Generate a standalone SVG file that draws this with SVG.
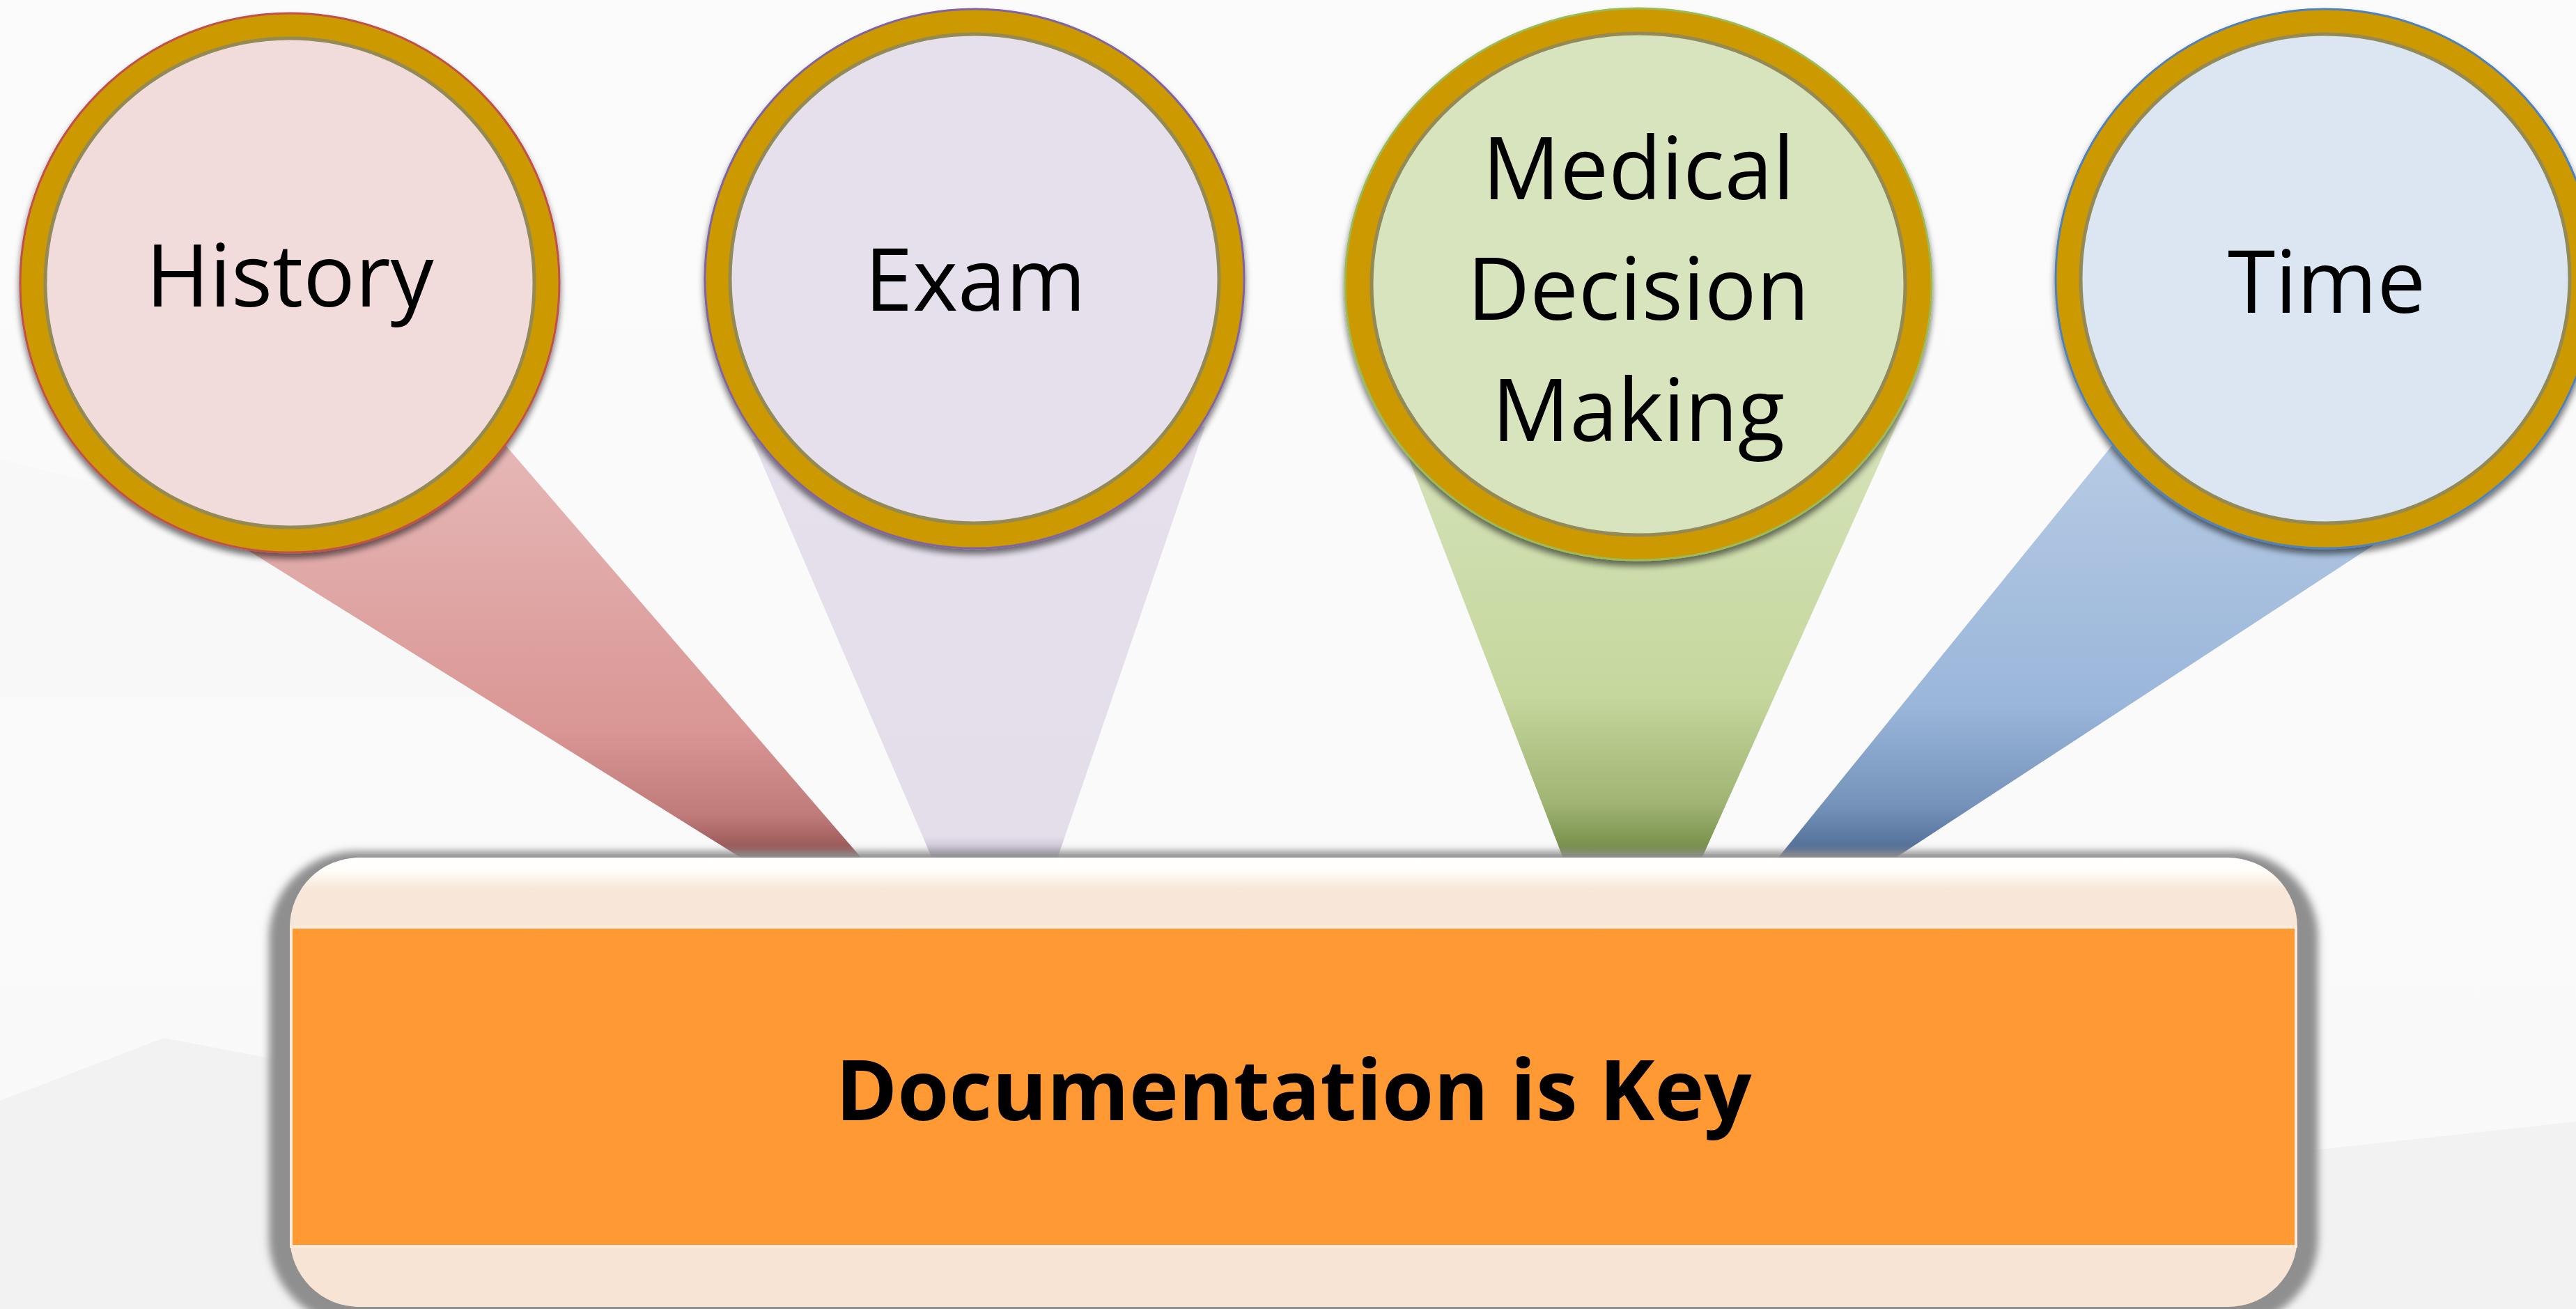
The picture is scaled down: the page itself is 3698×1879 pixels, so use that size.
<svg xmlns="http://www.w3.org/2000/svg" width="3698" height="1879" viewBox="0 0 3698 1879">
<style>
.lbl{font-family:"Open Sans","Noto Sans","Liberation Sans",sans-serif;font-size:124px;fill:#000;text-anchor:middle}
.key{font-family:"Open Sans","Noto Sans","Liberation Sans",sans-serif;font-size:120px;font-weight:bold;fill:#000;text-anchor:middle}
.ring{fill:#CC9900;stroke-width:3}
.face{stroke:#948A54;stroke-width:5}
</style>
<defs>
<filter id="csh" x="-10%" y="-10%" width="120%" height="125%">
<feGaussianBlur in="SourceAlpha" stdDeviation="5"/>
<feOffset dy="7" result="b"/>
<feComponentTransfer><feFuncA type="linear" slope="0.55"/></feComponentTransfer>
<feMerge><feMergeNode/><feMergeNode in="SourceGraphic"/></feMerge>
</filter>
<filter id="bsh" x="-5%" y="-10%" width="110%" height="120%">
<feGaussianBlur stdDeviation="6"/>
</filter>
<linearGradient id="gRed" gradientUnits="userSpaceOnUse" x1="0" y1="620" x2="0" y2="1232">
<stop offset="0" stop-color="#E6B9B8"/><stop offset="0.7" stop-color="#D99694"/><stop offset="0.9" stop-color="#BF7B79"/><stop offset="1" stop-color="#8E4E4E"/>
</linearGradient>
<linearGradient id="gPur" gradientUnits="userSpaceOnUse" x1="0" y1="600" x2="0" y2="1232">
<stop offset="0" stop-color="#E5E0EC"/><stop offset="0.95" stop-color="#E3DEEA"/><stop offset="1" stop-color="#B9B0C6"/>
</linearGradient>
<linearGradient id="gGrn" gradientUnits="userSpaceOnUse" x1="0" y1="570" x2="0" y2="1232">
<stop offset="0" stop-color="#D7E4BD"/><stop offset="0.65" stop-color="#C5D79D"/><stop offset="0.88" stop-color="#A0B473"/><stop offset="1" stop-color="#6F8742"/>
</linearGradient>
<linearGradient id="gBlu" gradientUnits="userSpaceOnUse" x1="0" y1="600" x2="0" y2="1232">
<stop offset="0" stop-color="#B9CDE5"/><stop offset="0.65" stop-color="#9AB6DA"/><stop offset="0.88" stop-color="#7592BA"/><stop offset="1" stop-color="#4B6890"/>
</linearGradient>
<linearGradient id="gBox" gradientUnits="userSpaceOnUse" x1="0" y1="1231" x2="0" y2="1876">
<stop offset="0" stop-color="#FFFFFF"/><stop offset="0.03" stop-color="#FFFDF8"/><stop offset="0.07" stop-color="#F8E7D8"/><stop offset="1" stop-color="#F7E4D5"/>
</linearGradient>
<linearGradient id="gBg" x1="0" y1="0" x2="0" y2="1">
<stop offset="0" stop-color="#FBFBFB"/><stop offset="1" stop-color="#F9F9F9"/>
</linearGradient>
</defs>

<g id="background">
<rect x="0" y="0" width="3698" height="1879" fill="url(#gBg)"/>
<polygon points="0,1580 235,1490 760,1590 1400,1600 3330,1650 3698,1610 3698,1879 0,1879" fill="#F2F2F2"/>
<polygon points="0,660 420,760 900,1000 0,1000" fill="#F6F6F6" opacity="0.5"/>
</g>

<g id="connectors">
<polygon points="292,750 692,600 1237,1232 1065,1232" fill="url(#gRed)"/>
<polygon points="1079,630 1730,612 1518,1232 1338,1232" fill="url(#gPur)"/>
<polygon points="1990,574 2739,574 2443,1232 2244,1232" fill="url(#gGrn)"/>
<polygon points="3064,600 3442,760 2720,1232 2552,1232" fill="url(#gBlu)"/>
</g>

<g id="key-box">
<rect x="386" y="1222" width="2942" height="680" rx="125" fill="#8F8F8F" filter="url(#bsh)"/>
<rect x="416" y="1231" width="2882" height="645" rx="100" fill="url(#gBox)"/>
<rect x="418" y="1331" width="2878" height="458" fill="#FF9933" stroke="#FDEADA" stroke-width="4"/>
<text class="key" x="1857" y="1608">Documentation is Key</text>
</g>

<g id="node-history" filter="url(#csh)">
<circle class="ring" cx="416" cy="406" r="387" stroke="#C0504D"/>
<circle class="face" cx="416" cy="406" r="351" fill="#F2DCDB"/>
<text class="lbl" x="416" y="440">History</text>
</g>

<g id="node-exam" filter="url(#csh)">
<circle class="ring" cx="1399" cy="400" r="387" stroke="#8064A2"/>
<circle class="face" cx="1399" cy="400" r="351" fill="#E5E0EC"/>
<text class="lbl" x="1400" y="446">Exam</text>
</g>

<g id="node-mdm" filter="url(#csh)">
<ellipse class="ring" cx="2352" cy="408" rx="421" ry="396" stroke="#9BBB59"/>
<ellipse class="face" cx="2352" cy="408" rx="383" ry="360" fill="#D8E4BE"/>
<text class="lbl" x="2352" y="286">Medical</text>
<text class="lbl" x="2352" y="459">Decision</text>
<text class="lbl" x="2352" y="633">Making</text>
</g>

<g id="node-time" filter="url(#csh)">
<circle class="ring" cx="3338" cy="400" r="387" stroke="#4F81BD"/>
<circle class="face" cx="3338" cy="400" r="351" fill="#DCE6F2"/>
<text class="lbl" x="3340" y="449">Time</text>
</g>
</svg>
